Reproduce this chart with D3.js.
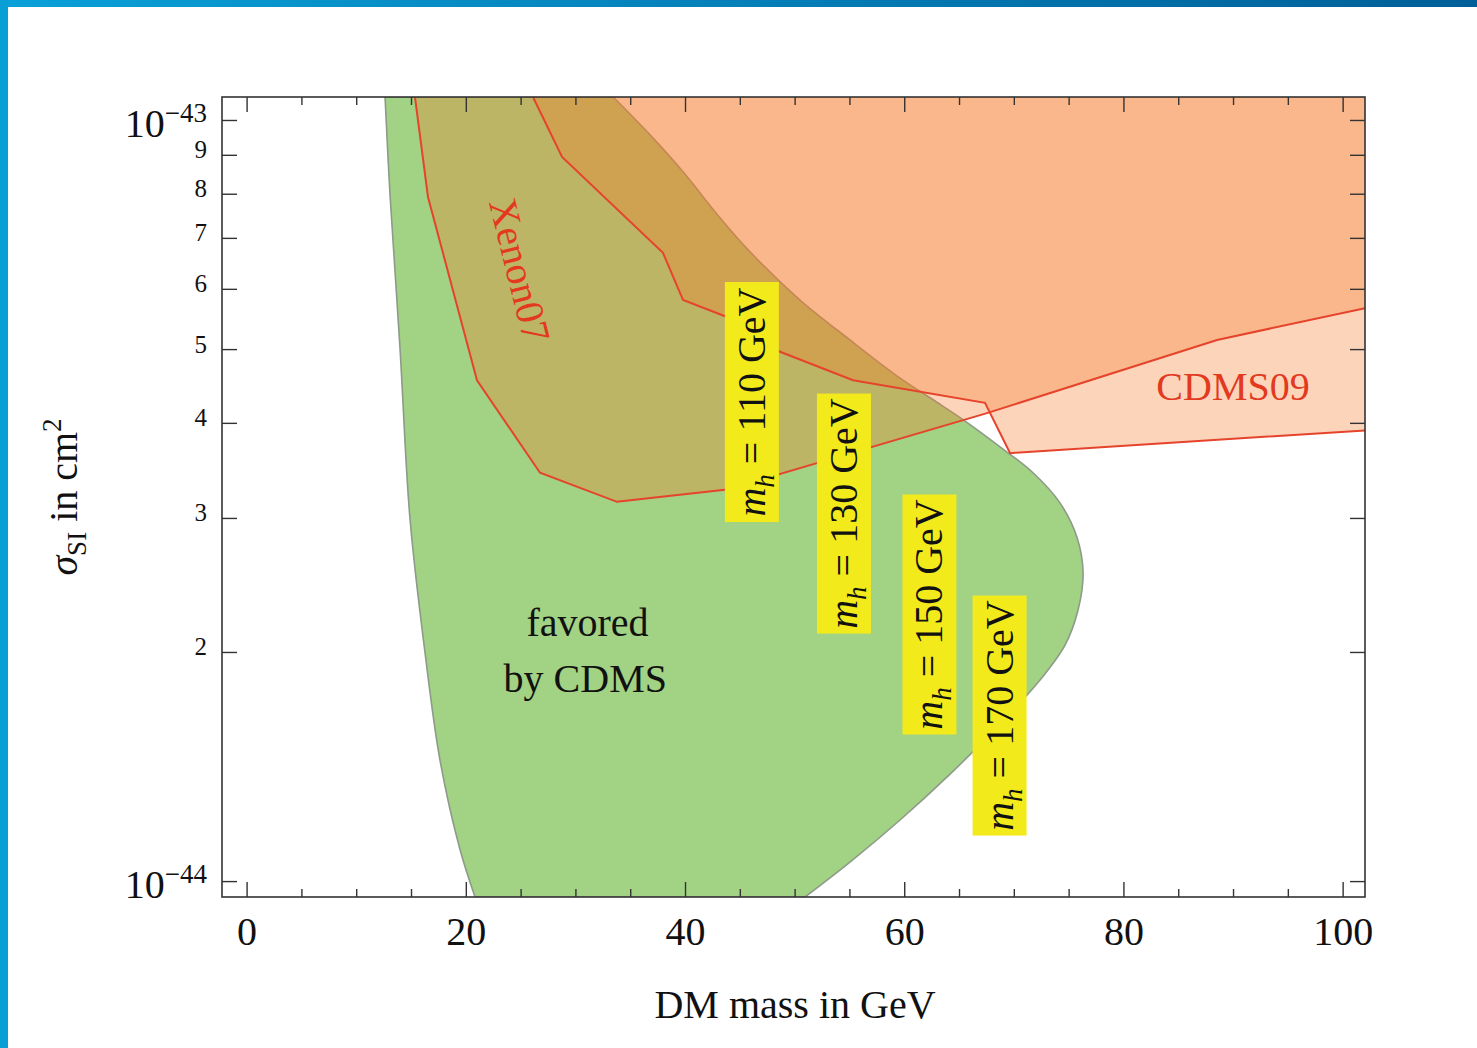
<!DOCTYPE html>
<html>
<head>
<meta charset="utf-8">
<script src="https://cdn.jsdelivr.net/npm/d3@7"></script>
<style>
body { margin: 0; background: #fff; }
svg { display: block; font-family: "Liberation Serif", "Times New Roman", serif; }
</style>
</head>
<body>
<svg id="chart" width="1477" height="1048"></svg>
<script>
// DM mass (GeV) / sigma_SI (units of 1e-44 cm^2)
const xenonMass = [15.36, 16.55, 21.02, 26.77, 33.79, 43.83, 67.55, 88.54, 102.04]
const xenonSigma = [10.72, 7.92, 4.55, 3.44, 3.15, 3.27, 4.12, 5.14, 5.66]

const cdmsMass = [26.13, 28.78, 37.99, 39.82, 43.83, 48.67, 55.33, 67.37, 69.66, 102.04]
const cdmsSigma = [10.72, 8.94, 6.69, 5.80, 5.51, 4.96, 4.55, 4.25, 3.65, 3.91]

// favored region, left edge top->bottom, right edge bottom->top
const favLeftMass = [12.63, 13.09, 14.0, 14.9, 16.27, 17.65, 19.47, 20.84]
const favLeftSigma = [10.72, 7.95, 5.0, 3.0, 2.0, 1.44, 1.10, 0.953]
const favRightMass = [50.95, 55.05, 59.62, 64.18, 68.74, 72.39, 74.67, 75.86, 76.32, 75.76, 74.21, 71.75, 68.74, 65.36, 62.63, 59.62, 55.05, 50.49, 45.93, 42.92, 39.82, 36.81, 33.44]
const favRightSigma = [0.953, 1.059, 1.203, 1.382, 1.608, 1.837, 2.042, 2.271, 2.54, 2.83, 3.14, 3.44, 3.72, 4.04, 4.29, 4.58, 5.14, 5.80, 6.71, 7.52, 8.55, 9.56, 10.72]

const higgsMass = [110, 130, 150, 170]
const higgsLabelMass = [46.1, 54.5, 62.3, 68.7]
const higgsLabelSigma = [4.26, 3.04, 2.24, 1.65]

const xMajorTicks = [0, 20, 40, 60, 80, 100]
const xMinorTicks = [5, 10, 15, 25, 30, 35, 45, 50, 55, 65, 70, 75, 85, 90, 95]
const yTicks = [1, 2, 3, 4, 5, 6, 7, 8, 9, 10]

const W = 1477
const H = 1048
const plot = { left: 222, right: 1365, top: 97, bottom: 897 }

const svg = d3.select('#chart')

// blue slide frame
const defs = svg.append('defs')
const grad = defs.append('linearGradient').attr('id', 'topbar')
grad.append('stop').attr('offset', '0%').attr('stop-color', '#0aa0d8')
grad.append('stop').attr('offset', '100%').attr('stop-color', '#005f98')
svg.append('rect').attr('x', 0).attr('y', 0).attr('width', W).attr('height', 7).attr('fill', 'url(#topbar)')
svg.append('rect').attr('x', 0).attr('y', 0).attr('width', 8).attr('height', H).attr('fill', '#089fd7')

defs.append('clipPath').attr('id', 'plotclip')
    .append('rect')
    .attr('x', plot.left).attr('y', plot.top)
    .attr('width', plot.right - plot.left).attr('height', plot.bottom - plot.top)

const x = d3.scaleLinear().domain([-2.245, 102.04]).range([plot.left, plot.right])
const y = d3.scaleLog().domain([0.953, 10.72]).range([plot.bottom, plot.top])

const pts = (ms, ss) => ms.map((m, i) => [x(m), y(ss[i])])
const sigmaTop = y.domain()[1]
const massEnd = x.domain()[1]

const g = svg.append('g').attr('clip-path', 'url(#plotclip)')

// favored by CDMS
const smooth = d3.line().curve(d3.curveCatmullRom.alpha(0.5))
const leftPath = smooth(pts(favLeftMass, favLeftSigma))
const rightPath = smooth(pts(favRightMass, favRightSigma))
g.append('path')
    .attr('d', leftPath + rightPath.replace(/^M/, 'L') + 'Z')
    .attr('fill', '#a2d283')
    .attr('stroke', '#8e9a8a')
    .attr('stroke-width', 1.6)

// exclusion regions
const excl = [
    { mass: xenonMass, sigma: xenonSigma },
    { mass: cdmsMass, sigma: cdmsSigma }
]
excl.forEach(e => {
    const p = pts(e.mass, e.sigma)
    p.push([x(massEnd), y(sigmaTop)], [x(e.mass[0]), y(sigmaTop)])
    g.append('path')
        .attr('d', d3.line()(p) + 'Z')
        .attr('fill', 'rgb(245,120,40)')
        .attr('fill-opacity', 0.32)
})
excl.forEach(e => {
    g.append('path')
        .attr('d', d3.line()(pts(e.mass, e.sigma)))
        .attr('fill', 'none')
        .attr('stroke', '#e5432b')
        .attr('stroke-width', 2)
})

// labels inside the plot
g.append('text')
    .attr('transform', `translate(${x(24.95)},${y(6.35)}) rotate(76)`)
    .attr('text-anchor', 'middle')
    .attr('dy', '0.35em')
    .attr('font-size', 40)
    .attr('fill', '#e2391f')
    .text('Xenon07')

g.append('text')
    .attr('x', x(90.0)).attr('y', y(4.47))
    .attr('text-anchor', 'middle')
    .attr('dy', '0.35em')
    .attr('font-size', 40)
    .attr('fill', '#e2391f')
    .text('CDMS09')

const fav = g.append('text')
    .attr('text-anchor', 'middle')
    .attr('font-size', 40)
    .attr('fill', '#111')
fav.append('tspan').attr('x', x(31.1)).attr('y', y(2.10)).text('favored')
fav.append('tspan').attr('x', x(30.9)).attr('y', y(1.77)).text('by CDMS')

higgsMass.forEach((mh, i) => {
    const lab = g.append('g')
        .attr('transform', `translate(${x(higgsLabelMass[i])},${y(higgsLabelSigma[i])}) rotate(-90)`)
    lab.append('rect')
        .attr('x', -120).attr('y', -27)
        .attr('width', 240).attr('height', 54)
        .attr('fill', '#f3ea1c')
    const t = lab.append('text')
        .attr('text-anchor', 'middle')
        .attr('y', 13)
        .attr('font-size', 40)
        .attr('fill', '#111')
    t.append('tspan').attr('font-style', 'italic').text('m')
    t.append('tspan').attr('font-style', 'italic').attr('font-size', 27).attr('dy', 9).text('h')
    t.append('tspan').attr('dy', -9).text(` = ${mh} GeV`)
})

// axes
const tickStyle = sel => {
    sel.select('.domain').remove()
    sel.selectAll('line').attr('stroke', '#333').attr('stroke-width', 1.4)
}

svg.append('g')
    .attr('transform', `translate(0,${plot.bottom})`)
    .call(d3.axisBottom(x).tickValues(xMajorTicks).tickSize(-15).tickPadding(20).tickFormat(d3.format('d')))
    .call(tickStyle)
    .selectAll('text')
    .attr('font-size', 40)
    .attr('font-family', '"Liberation Serif", serif')
    .attr('fill', '#111')

svg.append('g')
    .attr('transform', `translate(0,${plot.bottom})`)
    .call(d3.axisBottom(x).tickValues(xMinorTicks).tickSize(-8).tickFormat(''))
    .call(tickStyle)

svg.append('g')
    .attr('transform', `translate(0,${plot.top})`)
    .call(d3.axisTop(x).tickValues(xMajorTicks).tickSize(-15).tickFormat(''))
    .call(tickStyle)

svg.append('g')
    .attr('transform', `translate(0,${plot.top})`)
    .call(d3.axisTop(x).tickValues(xMinorTicks).tickSize(-8).tickFormat(''))
    .call(tickStyle)

const yAxis = svg.append('g')
    .attr('transform', `translate(${plot.left},0)`)
    .call(d3.axisLeft(y).tickValues(yTicks).tickSize(-15).tickPadding(15).tickFormat(''))
    .call(tickStyle)

yAxis.selectAll('.tick text').each(function (d) {
    const t = d3.select(this)
        .attr('font-family', '"Liberation Serif", serif')
        .attr('fill', '#111')
    if (d === 1 || d === 10) {
        t.attr('dy', '0.42em').attr('font-size', 40)
        t.append('tspan').text('10')
        t.append('tspan').attr('font-size', 27).attr('dy', -15).text(d === 1 ? '\u221244' : '\u221243')
    } else {
        t.attr('dy', '0.12em').attr('font-size', 25).text(d)
    }
})

svg.append('g')
    .attr('transform', `translate(${plot.right},0)`)
    .call(d3.axisRight(y).tickValues(yTicks).tickSize(-15).tickFormat(''))
    .call(tickStyle)

svg.append('rect')
    .attr('x', plot.left).attr('y', plot.top)
    .attr('width', plot.right - plot.left).attr('height', plot.bottom - plot.top)
    .attr('fill', 'none')
    .attr('stroke', '#333')
    .attr('stroke-width', 1.6)

// axis titles
svg.append('text')
    .attr('x', 795).attr('y', 1018)
    .attr('text-anchor', 'middle')
    .attr('font-size', 40)
    .attr('fill', '#111')
    .text('DM mass in GeV')

const yt = svg.append('text')
    .attr('transform', 'translate(77,497) rotate(-90)')
    .attr('text-anchor', 'middle')
    .attr('font-size', 40)
    .attr('fill', '#111')
yt.append('tspan').attr('font-style', 'italic').text('\u03c3')
yt.append('tspan').attr('font-size', 27).attr('dy', 9).text('SI')
yt.append('tspan').attr('dy', -9).text(' in cm')
yt.append('tspan').attr('font-size', 27).attr('dy', -16).text('2')
</script>
</body>
</html>
